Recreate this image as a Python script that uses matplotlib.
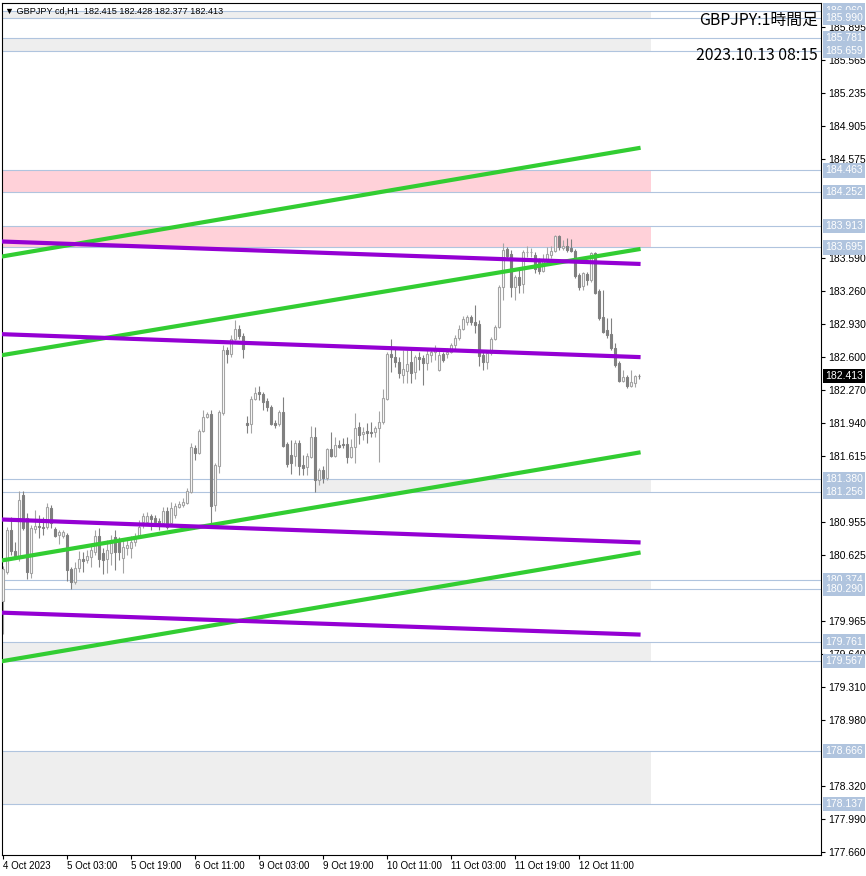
import matplotlib
matplotlib.use('Agg')
import numpy as np
from matplotlib import pyplot as plt
from matplotlib import transforms

# GBPJPY H1 bars, 4 Oct 11:00 .. 13 Oct 02:00 (server time)
opens = [180.17, 180.46, 180.87, 180.66, 180.59, 181.22, 180.99, 180.45, 180.88, 180.91,
         180.90, 180.90, 181.09, 180.88, 180.82, 180.81, 180.82, 180.48, 180.36, 180.49,
         180.58, 180.57, 180.60, 180.65, 180.81, 180.64, 180.58, 180.64, 180.80, 180.75,
         180.59, 180.69, 180.69, 180.75, 180.81, 180.95, 180.95, 181.01, 180.99, 180.96,
         180.94, 181.06, 180.94, 181.02, 181.10, 181.12, 181.14, 181.25, 181.69, 181.64,
         181.86, 182.00, 182.03, 181.12, 181.51, 182.04, 182.67, 182.63, 182.78, 182.88,
         182.81, 181.94, 181.93, 182.18, 182.25, 182.23, 182.16, 182.10, 181.94, 181.93,
         182.05, 181.73, 181.62, 181.61, 181.74, 181.52, 181.50, 181.60, 181.80, 181.37,
         181.47, 181.39, 181.68, 181.61, 181.72, 181.73, 181.73, 181.60, 181.70, 181.90,
         181.83, 181.86, 181.85, 181.85, 181.89, 181.95, 182.18, 182.63, 182.60, 182.55,
         182.42, 182.46, 182.55, 182.45, 182.60, 182.59, 182.54, 182.62, 182.65, 182.47,
         182.63, 182.63, 182.65, 182.72, 182.79, 182.88, 182.95, 183.00, 182.95, 182.93,
         182.62, 182.55, 182.64, 182.78, 182.90, 183.30, 183.68, 183.63, 183.30, 183.40,
         183.33, 183.645, 183.65, 183.62, 183.55, 183.46, 183.57, 183.62, 183.66, 183.81,
         183.69, 183.71, 183.69, 183.66, 183.42, 183.31, 183.43, 183.37, 183.64, 183.26,
         183.00, 182.87, 182.83, 182.69, 182.54, 182.36, 182.40, 182.31, 182.34, 182.415]
highs = [180.51, 180.90, 181.00, 180.75, 181.26, 181.26, 181.04, 180.92, 181.07, 181.02,
         181.00, 181.14, 181.12, 180.90, 180.87, 180.87, 180.84, 180.50, 180.55, 180.66,
         180.65, 180.67, 180.72, 180.87, 180.89, 180.69, 180.77, 180.82, 180.87, 180.80,
         180.77, 180.79, 180.81, 180.84, 180.97, 181.04, 181.05, 181.03, 181.02, 180.99,
         181.10, 181.10, 181.15, 181.14, 181.16, 181.19, 181.29, 181.74, 181.72, 181.88,
         182.07, 182.05, 182.07, 181.54, 182.07, 182.72, 182.70, 182.82, 182.97, 182.92,
         182.84, 182.01, 182.21, 182.30, 182.31, 182.25, 182.19, 182.12, 181.97, 182.07,
         182.20, 181.75, 181.77, 181.77, 181.77, 181.62, 181.64, 181.91, 181.90, 181.49,
         181.51, 181.69, 181.85, 181.80, 181.77, 181.79, 181.80, 181.78, 182.04, 181.95,
         181.90, 181.94, 181.95, 181.91, 182.06, 182.28, 182.65, 182.78, 182.70, 182.60,
         182.67, 182.67, 182.67, 182.62, 182.65, 182.62, 182.67, 182.69, 182.72, 182.67,
         182.65, 182.69, 182.74, 182.82, 182.92, 183.01, 183.02, 183.02, 183.12, 182.97,
         182.65, 182.62, 182.80, 182.92, 183.32, 183.74, 183.70, 183.67, 183.42, 183.49,
         183.67, 183.71, 183.69, 183.65, 183.59, 183.63, 183.70, 183.71, 183.82, 183.82,
         183.77, 183.79, 183.78, 183.68, 183.44, 183.45, 183.45, 183.65, 183.65, 183.28,
         183.27, 182.99, 182.99, 182.74, 182.56, 182.47, 182.42, 182.47, 182.42, 182.428]
lows = [179.84, 180.44, 180.62, 180.59, 180.56, 180.87, 180.39, 180.40, 180.84, 180.79,
        180.82, 180.88, 180.89, 180.80, 180.73, 180.79, 180.37, 180.29, 180.34, 180.46,
        180.46, 180.54, 180.50, 180.62, 180.50, 180.44, 180.45, 180.52, 180.47, 180.57,
        180.45, 180.62, 180.59, 180.71, 180.79, 180.89, 180.92, 180.87, 180.91, 180.87,
        180.92, 180.88, 180.92, 180.99, 181.09, 181.10, 181.13, 181.24, 181.57, 181.63,
        181.85, 181.99, 180.90, 181.06, 181.44, 182.02, 182.54, 182.60, 182.77, 182.78,
        182.59, 181.84, 181.84, 182.17, 182.17, 182.07, 182.06, 181.92, 181.89, 181.91,
        181.70, 181.50, 181.43, 181.51, 181.42, 181.42, 181.42, 181.59, 181.256, 181.32,
        181.34, 181.37, 181.60, 181.60, 181.69, 181.69, 181.54, 181.59, 181.54, 181.73,
        181.77, 181.74, 181.80, 181.80, 181.55, 181.93, 182.17, 182.45, 182.50, 182.39,
        182.34, 182.34, 182.34, 182.38, 182.47, 182.32, 182.47, 182.55, 182.57, 182.46,
        182.55, 182.59, 182.64, 182.67, 182.77, 182.87, 182.92, 182.92, 182.84, 182.51,
        182.47, 182.48, 182.62, 182.77, 182.89, 183.17, 183.59, 183.20, 183.17, 183.24,
        183.24, 183.60, 183.60, 183.44, 183.43, 183.45, 183.54, 183.59, 183.65, 183.67,
        183.67, 183.65, 183.65, 183.39, 183.27, 183.27, 183.32, 183.35, 183.23, 182.97,
        182.84, 182.79, 182.67, 182.50, 182.35, 182.35, 182.29, 182.30, 182.30, 182.377]
closes = [180.48, 180.87, 180.66, 180.61, 181.17, 180.89, 180.46, 180.89, 180.91, 180.90,
          180.89, 181.10, 180.94, 180.81, 180.85, 180.85, 180.47, 180.36, 180.49, 180.58,
          180.56, 180.61, 180.67, 180.81, 180.58, 180.57, 180.67, 180.76, 180.65, 180.65,
          180.70, 180.72, 180.75, 180.80, 180.90, 181.01, 181.01, 180.98, 180.95, 180.92,
          181.06, 180.90, 181.09, 181.11, 181.13, 181.15, 181.26, 181.70, 181.64, 181.86,
          182.00, 182.03, 181.11, 181.52, 182.05, 182.67, 182.63, 182.78, 182.88, 182.81,
          182.68, 181.92, 182.18, 182.24, 182.23, 182.15, 182.10, 181.93, 181.92, 182.05,
          181.71, 181.53, 181.54, 181.74, 181.51, 181.49, 181.61, 181.80, 181.37, 181.47,
          181.39, 181.68, 181.61, 181.72, 181.70, 181.72, 181.60, 181.70, 181.89, 181.82,
          181.85, 181.84, 181.84, 181.89, 181.95, 182.19, 182.63, 182.60, 182.55, 182.44,
          182.48, 182.53, 182.44, 182.60, 182.58, 182.54, 182.63, 182.65, 182.68, 182.62,
          182.57, 182.65, 182.72, 182.79, 182.88, 182.98, 183.00, 182.95, 182.92, 182.61,
          182.55, 182.64, 182.78, 182.90, 183.30, 183.67, 183.61, 183.30, 183.40, 183.32,
          183.65, 183.65, 183.65, 183.48, 183.46, 183.57, 183.63, 183.66, 183.81, 183.70,
          183.71, 183.67, 183.66, 183.41, 183.30, 183.44, 183.37, 183.64, 183.24, 182.99,
          182.85, 182.82, 182.69, 182.52, 182.36, 182.40, 182.31, 182.35, 182.41, 182.413]

time_ticks = [0, 16, 32, 48, 64, 80, 96, 112, 128, 144]
time_labels = ['4 Oct 2023', '5 Oct 03:00', '5 Oct 19:00', '6 Oct 11:00', '9 Oct 03:00',
               '9 Oct 19:00', '10 Oct 11:00', '11 Oct 03:00', '11 Oct 19:00', '12 Oct 11:00']

price_ticks = [185.895, 185.565, 185.235, 184.905, 184.575, 183.590, 183.260, 182.930,
               182.600, 182.270, 181.940, 181.615, 180.955, 180.625, 179.965, 179.640,
               179.310, 178.980, 178.320, 177.990, 177.660]

levels = [186.060, 185.990, 185.781, 185.659, 184.463, 184.252, 183.913, 183.695,
          181.380, 181.256, 180.374, 180.290, 179.761, 179.567, 178.666, 178.137]

zone_low = [185.990, 185.659, 184.252, 183.695, 181.256, 180.290, 179.567, 178.137]
zone_high = [186.060, 185.781, 184.463, 183.913, 181.380, 180.374, 179.761, 178.666]
zone_start = [-1, -1, -1, -1, 78, 17, -1, -1]
zone_pink = [False, False, True, True, False, False, False, False]
zone_end = 161.8

line_x = [-1, 159.3]
green_start = [183.60, 182.615, 180.566, 179.56]
green_end = [184.69, 183.68, 181.65, 180.65]
purple_start = [183.755, 182.83, 180.98, 180.05]
purple_end = [183.53, 182.60, 180.75, 179.83]

last_price = 182.413

plt.rcParams['font.family'] = ['Liberation Sans', 'DejaVu Sans']

fig = plt.figure(figsize=(8.66, 8.76), dpi=100)
ax = fig.add_axes([2 / 866, 21 / 876, 819 / 866, 852.5 / 876])

o = np.array(opens)
h = np.array(highs)
l = np.array(lows)
c = np.array(closes)
x = np.arange(len(o))
up = c >= o

# zones and levels in the background
for lo, hi, start, pink in zip(zone_low, zone_high, zone_start, zone_pink):
    ax.fill_between([start, zone_end], lo, hi, color='#ffd1d9' if pink else '#eeeeee',
                    lw=0, zorder=0.5)
for lev in levels:
    ax.axhline(lev, color='#b0c4de', lw=0.8, zorder=1)

# candles
wick_col = np.where(up, '#a4a4a4', '#808080')
ax.vlines(x, l, h, colors=wick_col, lw=0.8, zorder=2)
body_low = np.minimum(o, c)
body_h = np.abs(c - o)
ax.bar(x[up], body_h[up], bottom=body_low[up], width=0.55, color='white',
       edgecolor='#a4a4a4', linewidth=0.8, zorder=3)
ax.bar(x[~up], body_h[~up], bottom=body_low[~up], width=0.55, color='#808080',
       edgecolor='#808080', linewidth=0.8, zorder=3)

# trend lines
for s, e in zip(green_start, green_end):
    ax.plot(line_x, [s, e], color='#32cd32', lw=3, solid_capstyle='butt', zorder=4)
for s, e in zip(purple_start, purple_end):
    ax.plot(line_x, [s, e], color='#9400d3', lw=3, solid_capstyle='butt', zorder=4)

ax.set_xlim(-0.325, 204.4)
ax.set_ylim(177.63, 186.14)

for sp in ax.spines.values():
    sp.set_color('black')
    sp.set_linewidth(0.8)

ax.set_xticks(time_ticks)
ax.set_xticklabels(time_labels, ha='left', fontsize=7)
ax.tick_params(axis='x', direction='out', length=3, pad=1, width=0.8)
ax.yaxis.tick_right()
ax.set_yticks(price_ticks)
ax.set_yticklabels([f'{p:.3f}' for p in price_ticks], fontsize=7.5)
ax.tick_params(axis='y', direction='out', length=3, pad=2, width=0.8)

# price labels on the right scale
lab_tr = transforms.offset_copy(ax.get_yaxis_transform(), fig=fig, x=4, y=0, units='dots')
for lev in levels:
    ax.text(1.0, lev, f'{lev:.3f}', transform=lab_tr, ha='left', va='center',
            fontsize=7.5, color='white', clip_on=False, zorder=10,
            bbox=dict(boxstyle='square,pad=0.2', fc='#b0c4de', ec='none'))
ax.text(1.0, last_price, f'{last_price:.3f}', transform=lab_tr, ha='left', va='center',
        fontsize=7.5, color='white', clip_on=False, zorder=11,
        bbox=dict(boxstyle='square,pad=0.2', fc='black', ec='none'))

fig.text(5 / 866, 1 - 11 / 876,
         '\u25bc GBPJPY cd,H1  182.415 182.428 182.377 182.413',
         fontsize=6.6, va='center', ha='left')
fig.text(818 / 866, 1 - 20 / 876, 'GBPJPY:1時間足', fontsize=11.4, va='center', ha='right',
         family=['Noto Sans CJK JP', 'DejaVu Sans'])
fig.text(818 / 866, 1 - 55 / 876, '2023.10.13 08:15', fontsize=11.4, va='center', ha='right',
         family=['Noto Sans CJK JP', 'DejaVu Sans'])

fig.savefig('out.png', dpi=100)
